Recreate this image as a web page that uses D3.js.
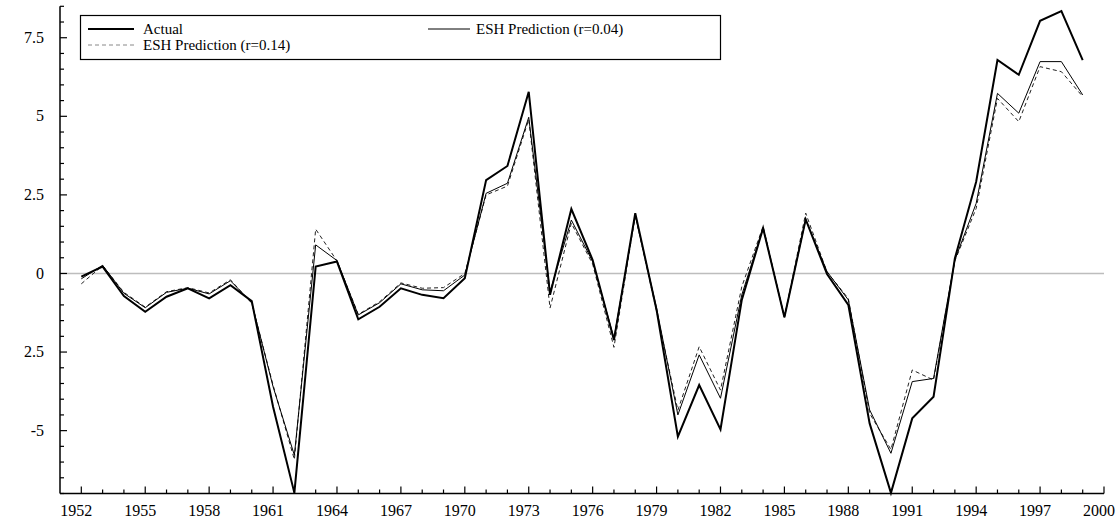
<!DOCTYPE html>
<html>
<head>
<meta charset="utf-8">
<script src="https://cdn.jsdelivr.net/npm/d3@7"></script>
<style>
  html, body { margin: 0; padding: 0; background: #fff; }
  svg { display: block; }
  text { font-family: "Liberation Serif", "Times New Roman", serif; fill: #000; }
</style>
</head>
<body>
<svg id="chart" width="1120" height="522"></svg>
<script>
const years = d3.range(1952, 2000);
const actual = [
  -0.10, 0.22, -0.72, -1.22, -0.74, -0.47, -0.79, -0.37, -0.88, -4.24,
  -6.98, 0.22, 0.38, -1.46, -1.06, -0.47, -0.68, -0.79, -0.15, 2.97,
  3.42, 5.78, -0.68, 2.05, 0.43, -2.12, 1.92, -1.16, -5.19, -3.55,
  -4.96, -0.84, 1.44, -1.39, 1.72, -0.02, -1.00, -4.77, -6.98, -4.61,
  -3.92, 0.48, 2.92, 6.79, 6.32, 8.04, 8.35, 6.79
];
const esh004 = [
  -0.17, 0.26, -0.63, -1.09, -0.60, -0.47, -0.65, -0.23, -0.93, -3.60,
  -5.78, 0.91, 0.41, -1.32, -0.93, -0.33, -0.52, -0.55, -0.05, 2.55,
  2.87, 4.97, -0.58, 1.70, 0.38, -2.06, 1.85, -1.10, -4.50, -2.59,
  -3.97, -0.68, 1.45, -1.39, 1.72, 0.06, -0.84, -4.34, -5.72, -3.44,
  -3.34, 0.43, 2.23, 5.73, 5.10, 6.74, 6.74, 5.68
];
const esh014 = [
  -0.33, 0.25, -0.60, -1.07, -0.58, -0.45, -0.62, -0.20, -0.95, -3.55,
  -5.92, 1.41, 0.40, -1.30, -0.90, -0.30, -0.47, -0.45, 0.00, 2.50,
  2.78, 4.90, -1.10, 1.60, 0.30, -2.35, 1.85, -1.20, -4.35, -2.33,
  -3.71, -0.42, 1.50, -1.39, 1.92, 0.05, -0.80, -4.45, -5.60, -3.07,
  -3.39, 0.40, 2.07, 5.57, 4.83, 6.58, 6.42, 5.63
];
const xTickYears = d3.range(1952, 2001, 3);
const yTickValues = [-5, -2.5, 0, 2.5, 5, 7.5];
const yTickLabels = ["-5", "2.5", "0", "2.5", "5", "7.5"];
const legendLabels = ["Actual", "ESH Prediction (r=0.04)", "ESH Prediction (r=0.14)"];

const svg = d3.select("#chart");
const x = d3.scaleLinear().domain([1951, 2000]).range([60, 1104]);
const y = d3.scaleLinear().domain([-7, 8.5]).range([493.5, 6.3]);

// zero line
svg.append("line")
  .attr("x1", x(1951)).attr("x2", x(2000))
  .attr("y1", y(0)).attr("y2", y(0))
  .attr("stroke", "#bdbdbd").attr("stroke-width", 1.5);

// Y axis
const yMinor = d3.range(-7, 8.51, 0.5);
const gy = svg.append("g").attr("transform", `translate(${x(1951)},0)`);
gy.append("line").attr("x1", 0).attr("x2", 0)
  .attr("y1", y(8.5)).attr("y2", y(-7))
  .attr("stroke", "#000").attr("stroke-width", 1.5);
gy.selectAll("line.tk").data(yMinor).join("line").attr("class", "tk")
  .attr("x1", 0)
  .attr("x2", d => (Math.abs(d / 2.5 - Math.round(d / 2.5)) < 1e-6) ? 7 : 4)
  .attr("y1", d => y(d)).attr("y2", d => y(d))
  .attr("stroke", "#000").attr("stroke-width", 1.2);
gy.selectAll("text").data(yTickValues).join("text")
  .attr("x", -16).attr("y", d => y(d))
  .attr("dy", "0.32em")
  .attr("text-anchor", "end")
  .style("font-size", "16px")
  .text((d, i) => yTickLabels[i]);

// X axis
const xAllTicks = d3.range(1952, 2001);
const gx = svg.append("g").attr("transform", `translate(0,${y(-7)})`);
gx.append("line").attr("x1", x(1951)).attr("x2", x(2000))
  .attr("y1", 0).attr("y2", 0)
  .attr("stroke", "#000").attr("stroke-width", 1.5);
gx.selectAll("line.tk").data(xAllTicks).join("line").attr("class", "tk")
  .attr("x1", d => x(d)).attr("x2", d => x(d))
  .attr("y1", 0)
  .attr("y2", d => ((d - 1952) % 3 === 0) ? -7 : -4)
  .attr("stroke", "#000").attr("stroke-width", 1.2);
gx.selectAll("text").data(xTickYears).join("text")
  .attr("x", d => x(d) - 5).attr("y", 22)
  .attr("text-anchor", "middle")
  .style("font-size", "16px")
  .text(d => d);

// lines
const lineGen = vals => d3.line()
  .x((d, i) => x(years[i]))
  .y(d => y(d))(vals);

svg.append("path").attr("d", lineGen(esh014))
  .attr("fill", "none").attr("stroke", "#222").attr("stroke-width", 1)
  .attr("stroke-dasharray", "4,3");
svg.append("path").attr("d", lineGen(esh004))
  .attr("fill", "none").attr("stroke", "#000").attr("stroke-width", 1);
svg.append("path").attr("d", lineGen(actual))
  .attr("fill", "none").attr("stroke", "#000").attr("stroke-width", 2)
  .attr("stroke-linejoin", "miter");

// legend
const lg = svg.append("g");
lg.append("rect").attr("x", 80.5).attr("y", 15.5).attr("width", 640).attr("height", 44)
  .attr("fill", "#fff").attr("stroke", "#000").attr("stroke-width", 1.2);
const legendItems = [
  { x1: 88, x2: 134, y: 29, tx: 143, w: 2, dash: null, color: "#000", label: legendLabels[0] },
  { x1: 428, x2: 470, y: 29, tx: 476, w: 1, dash: null, color: "#000", label: legendLabels[1] },
  { x1: 88, x2: 134, y: 45, tx: 143, w: 1, dash: "4,3", color: "#888", label: legendLabels[2] }
];
legendItems.forEach(it => {
  lg.append("line").attr("x1", it.x1).attr("x2", it.x2).attr("y1", it.y).attr("y2", it.y)
    .attr("stroke", it.color).attr("stroke-width", it.w)
    .attr("stroke-dasharray", it.dash);
  lg.append("text").attr("x", it.tx).attr("y", it.y).attr("dy", "0.32em")
    .style("font-size", "15px").text(it.label);
});
</script>
</body>
</html>
